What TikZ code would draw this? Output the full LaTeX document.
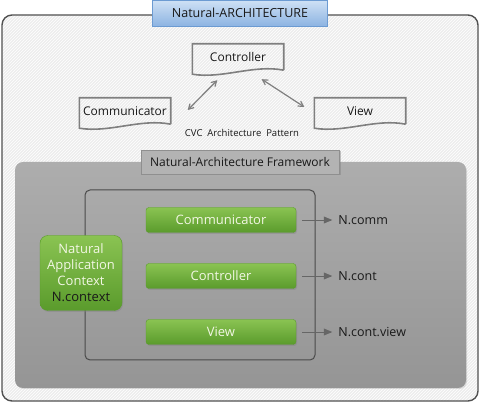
\documentclass[tikz,border=0pt]{standalone}
\usepackage{fontspec}
\setmainfont{Open Sans}
\usetikzlibrary{calc}
\usetikzlibrary{positioning}
\usetikzlibrary{arrows,shadows,patterns}
\definecolor{hatchbase}{HTML}{EDEDED}
\definecolor{framegray}{HTML}{505050}
\definecolor{titletop}{HTML}{CFE1F5}
\definecolor{titlebottom}{HTML}{8DB4E2}
\definecolor{titleline}{HTML}{6C9BD2}
\definecolor{docgray}{HTML}{7F7F7F}
\definecolor{fwtop}{HTML}{ADADAD}
\definecolor{fwbottom}{HTML}{959595}
\definecolor{fwlabel}{HTML}{B3B3B3}
\definecolor{innerline}{HTML}{4A4A4A}
\definecolor{greentop}{HTML}{8AC352}
\definecolor{greenbottom}{HTML}{5A9B2C}
\definecolor{greentext}{HTML}{F2F7E4}
\tikzset{
	>=stealth',
	outerframe/.style={
		draw=framegray, line width=1.4pt,
		rounded corners=10pt,
		preaction={fill=hatchbase},
		pattern=north east lines, pattern color=white},
	titlebox/.style={
		rectangle,
		top color=titletop, bottom color=titlebottom,
		draw=titleline, thick,
		minimum width=175pt, minimum height=26pt,
		text=black!90, font=\fontsize{12.5}{14}\selectfont},
	docbox/.style={
		rectangle,
		minimum width=91pt, minimum height=26pt,
		text=black!90, font=\fontsize{12}{14}\selectfont},
	docline/.style={draw=docgray, line width=1.6pt},
	pairarrow/.style={<->, >=angle 60, draw=docgray, line width=1.2pt},
	framework/.style={
		rounded corners=8pt,
		top color=fwtop, bottom color=fwbottom,
		drop shadow={opacity=0.25, shadow xshift=1pt, shadow yshift=-1pt}},
	fwtitle/.style={
		rectangle,
		fill=fwlabel, draw=fwlabel!80!black,
		minimum width=198pt, minimum height=24pt,
		drop shadow={opacity=0.45, shadow xshift=1.5pt, shadow yshift=-1.5pt},
		text=black!90, font=\fontsize{12}{14}\selectfont},
	greenbox/.style={
		rectangle, rounded corners=3pt,
		top color=greentop, bottom color=greenbottom,
		draw=greenbottom,
		minimum width=150pt, minimum height=25pt,
		text=greentext, font=\fontsize{13}{15}\selectfont,
		drop shadow={opacity=0.4, shadow xshift=1pt, shadow yshift=-1.5pt}},
	outarrow/.style={-triangle 45, draw=black!60, line width=0.9pt},
	outlabel/.style={text=black!90, inner sep=0pt, font=\fontsize{12.5}{14}\selectfont},
}
% wavy bottom of a document box
\newcommand{\docframe}[1]{
	\draw[docline] (#1.south east) -- (#1.north east) -- (#1.north west)
		-- ($(#1.south west)+(0,4)$) .. controls +(30,5) and +(-30,-6) .. (#1.south east);
}
\begin{document}
\begin{tikzpicture}[x=1pt,y=-1pt]
	\useasboundingbox (0,0) rectangle (480,403);
	
	\path[outerframe] (2,15) rectangle (478,401);
	\node[titlebox] (title) at (240,13) {Natural-ARCHITECTURE};
	
	% CVC pattern
	\node[docbox] (ctrl) at (238,57) {Controller};
	\node[docbox] (comm) at (125,111) {Communicator};
	\node[docbox] (view) at (360,111) {View};
	\docframe{ctrl}
	\docframe{comm}
	\docframe{view}
	\draw[pairarrow] ($(comm.east)+(17,-1)$) -- ($(ctrl.south west)+(25,10)$);
	\draw[pairarrow] ($(ctrl.south east)+(-22,9)$) -- ($(view.west)+(-10,-4)$);
	\node[text=black!90, font=\fontsize{9.5}{11}\selectfont] (cvc) at (242,133) {CVC~ Architecture~ Pattern};
	
	% framework
	\path[framework] (15,162) rectangle (466,388);
	\node[fwtitle] (fw) at (240,162) {Natural-Architecture Framework};
	\draw[innerline, line width=1pt, rounded corners=5pt] (85,190) rectangle (315,360);
	
	\node[greenbox] (gcomm) at (221,220) {Communicator};
	\node[greenbox] (gcont) at (221,276) {Controller};
	\node[greenbox] (gview) at (221,332) {View};
	\node[greenbox, rounded corners=8pt, minimum width=82pt, minimum height=75pt,
		align=center, inner sep=1pt, font=\fontsize{13}{16}\selectfont] (ctx) at (81,273)
		{Natural\\Application\\Context\\\textcolor{black!90}{N.context}};
	
	\node[outlabel, right=42pt of gcomm] (ncomm) {N.comm};
	\node[outlabel, right=42pt of gcont] (ncont) {N.cont};
	\node[outlabel, right=42pt of gview] (nview) {N.cont.view};
	\draw[outarrow] ([xshift=6pt]gcomm.east) -- ([xshift=-6pt]ncomm.west);
	\draw[outarrow] ([xshift=6pt]gcont.east) -- ([xshift=-6pt]ncont.west);
	\draw[outarrow] ([xshift=6pt]gview.east) -- ([xshift=-6pt]nview.west);
	
\end{tikzpicture}
\end{document}
